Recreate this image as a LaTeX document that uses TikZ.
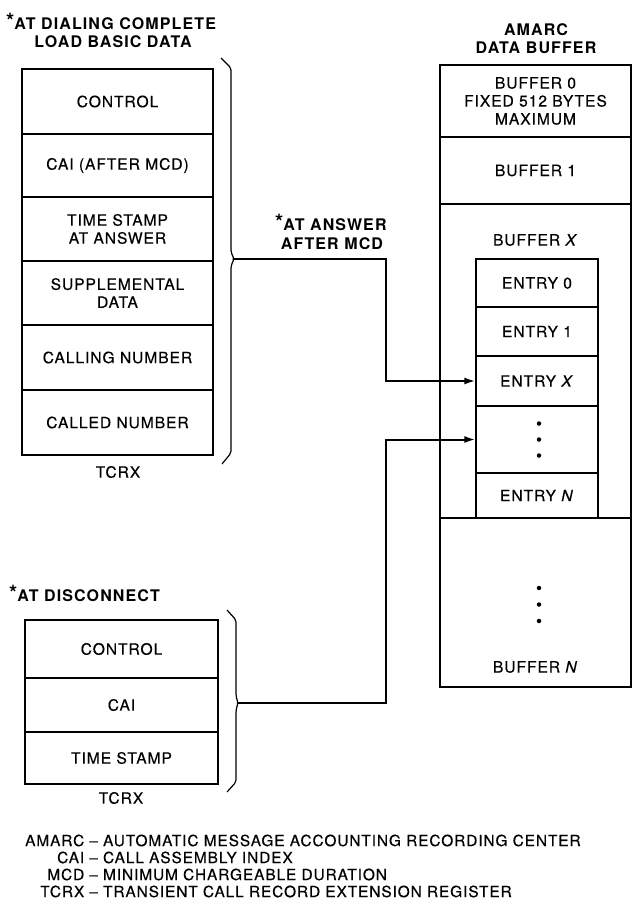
\documentclass[tikz,border=0pt]{standalone}
\usepackage{fontspec}
\setmainfont{TeX Gyre Heros}[LetterSpace=6, FakeBold=0.4]
\newfontfamily\hdfam{TeX Gyre Heros}[LetterSpace=7]
\usetikzlibrary{arrows.meta}
\newcommand{\bxfont}{\fontsize{15.6}{18}\selectfont}
\newcommand{\hdfont}{\hdfam\fontsize{16}{19}\selectfont\bfseries}
\newcommand{\st}{\raisebox{1pt}{\fontsize{21}{21}\selectfont *}}
\begin{document}
\begin{tikzpicture}[x=1pt,y=-1pt,
  cell/.style={draw, line width=1.2pt, inner sep=0pt, align=center, font=\bxfont},
  lbl/.style={inner sep=0pt, align=center, font=\bxfont},
  hd/.style={inner sep=0pt, align=center, font=\hdfont},
  brace/.style={line width=1.2pt, rounded corners=2pt},
  conn/.style={line width=2pt, -{Latex[length=11pt,width=7pt]}},
  dot/.style={circle, fill, inner sep=0pt, minimum size=4.5pt}]
\useasboundingbox (0,0) rectangle (632,902);

% headings
\node[hd, anchor=west] (h1) at (6,21) {\st AT DIALING COMPLETE};
\node[hd] (h2) at (113,42) {LOAD BASIC DATA};
\node[hd] (h3) at (536,30) {AMARC};
\node[hd] (h4) at (536,48) {DATA BUFFER};
\node[hd, anchor=west] (h5) at (275,222) {\st AT ANSWER};
\node[hd] (h6) at (332,244) {AFTER MCD};
\node[hd, anchor=west] (h7) at (9,593) {\st AT DISCONNECT};

% upper TCRX
\node[cell, minimum width=191pt, minimum height=65pt] (u1) at (117.5,101.5) {CONTROL};
\node[cell, minimum width=191pt, minimum height=63pt] (u2) at (117.5,165.5) {CAI (AFTER MCD)};
\node[cell, minimum width=191pt, minimum height=64pt] (u3) at (117.5,229) {TIME STAMP\\AT ANSWER};
\node[cell, minimum width=191pt, minimum height=64pt] (u4) at (117.5,293) {SUPPLEMENTAL\\DATA};
\node[cell, minimum width=191pt, minimum height=65pt] (u5) at (117.5,357.5) {CALLING NUMBER};
\node[cell, minimum width=191pt, minimum height=65pt] (u6) at (117.5,422.5) {CALLED NUMBER};
\node[lbl] (t1) at (118,472) {TCRX};
\draw[brace] (221,58) -- (231,68) -- (231,252) -- (234,259) -- (231,266) -- (231,453) -- (222,464);
\coordinate (tip1) at (234,259);

% lower TCRX
\node[cell, minimum width=193pt, minimum height=58pt] (l1) at (121.5,649) {CONTROL};
\node[cell, minimum width=193pt, minimum height=54pt] (l2) at (121.5,705) {CAI};
\node[cell, minimum width=193pt, minimum height=52pt] (l3) at (121.5,758) {TIME STAMP};
\node[lbl] (t2) at (121,798) {TCRX};
\draw[brace] (227,610) -- (236,620) -- (236,696) -- (238,703) -- (236,710) -- (236,782) -- (227,792);
\coordinate (tip2) at (238,703);

% buffer
\node[cell, minimum width=191pt, minimum height=72pt] (b0) at (535.5,101) {BUFFER 0\\FIXED 512 BYTES\\MAXIMUM};
\node[cell, minimum width=191pt, minimum height=67pt] (b1) at (535.5,170.5) {BUFFER 1};
\node[cell, minimum width=191pt, minimum height=314pt] (bx) at (535.5,361) {};
\node[lbl] (bxl) at (535.5,240) {BUFFER \textit{X}};
\node[cell, minimum width=191pt, minimum height=169pt] (bn) at (535.5,602.5) {};
\node[lbl] (bnl) at (535.5,667) {BUFFER \textit{N}};
\node[dot] (bd1) at (539,588) {};
\node[dot] (bd2) at (539,604.5) {};
\node[dot] (bd3) at (539,621) {};

% entries
\node[cell, minimum width=122pt, minimum height=48pt] (e0) at (537,283) {ENTRY 0};
\node[cell, minimum width=122pt, minimum height=49pt] (e1) at (537,331.5) {ENTRY 1};
\node[cell, minimum width=122pt, minimum height=50pt] (ex) at (537,381) {ENTRY \textit{X}};
\node[cell, minimum width=122pt, minimum height=67pt] (ed) at (537,439.5) {};
\node[cell, minimum width=122pt, minimum height=45pt] (en) at (537,495.5) {ENTRY \textit{N}};
\node[dot] (ed1) at (539,423.5) {};
\node[dot] (ed2) at (539,439.5) {};
\node[dot] (ed3) at (539,455.5) {};

% connectors
\draw[conn] (tip1) -- ++(152,0) |- (ex.west);
\draw[conn] (tip2) -- ++(148,0) |- (ed.west);

% legend
\node[inner sep=0pt, anchor=north west, font=\fontsize{15.4}{17}\selectfont] (leg) at (25,834)
 {\begin{tabular}{@{}r@{\,\,--\,\,}l@{}}
 AMARC & AUTOMATIC MESSAGE ACCOUNTING RECORDING CENTER\\
 CAI & CALL ASSEMBLY INDEX\\
 MCD & MINIMUM CHARGEABLE DURATION\\
 TCRX & TRANSIENT CALL RECORD EXTENSION REGISTER
 \end{tabular}};
\end{tikzpicture}
\end{document}
